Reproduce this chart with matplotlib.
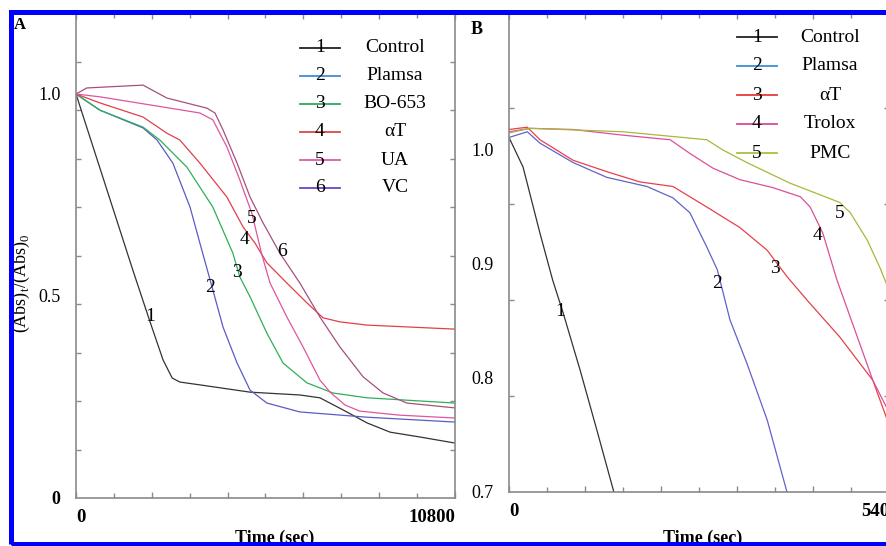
import matplotlib
matplotlib.use("Agg")
import matplotlib.pyplot as plt
from matplotlib.lines import Line2D
from matplotlib.patches import Rectangle
import numpy as np

plt.rcParams['font.family'] = ['Liberation Serif', 'DejaVu Serif']
plt.rcParams['mathtext.fontset'] = 'custom'
plt.rcParams['mathtext.rm'] = 'Liberation Serif'

# %% ----------- data: panel A (time in sec, relative absorbance) -------------
a_names = ['Control', 'Plamsa', 'BO-653', 'αT', 'UA', 'VC']

a_t1 = [0, 1620, 2110, 2480, 2740, 2960, 3530, 4960, 6380, 6950, 7610, 8290, 8950, 9800, 10800]
a_v1 = [1.0, 0.564, 0.436, 0.342, 0.297, 0.287, 0.280, 0.262, 0.255, 0.248, 0.218, 0.186, 0.163, 0.151, 0.136]

a_t2 = [0, 680, 1910, 2310, 2760, 3250, 3530, 3900, 4190, 4590, 4960, 5440, 6380, 8290, 10800]
a_v2 = [1.0, 0.960, 0.916, 0.886, 0.829, 0.720, 0.631, 0.515, 0.423, 0.334, 0.267, 0.235, 0.213, 0.200, 0.188]

a_t3 = [0, 680, 1910, 2390, 3160, 3900, 4470, 4670, 4960, 5440, 5900, 6580, 7320, 8290, 10800]
a_v3 = [1.0, 0.960, 0.918, 0.886, 0.819, 0.720, 0.606, 0.547, 0.498, 0.408, 0.334, 0.285, 0.260, 0.248, 0.235]

a_t4 = [0, 680, 1910, 2590, 2960, 3530, 4300, 4760, 5100, 5440, 6010, 6580, 7040, 7520, 8290, 10800]
a_v4 = [1.0, 0.978, 0.943, 0.903, 0.886, 0.829, 0.745, 0.671, 0.631, 0.582, 0.532, 0.483, 0.446, 0.436, 0.428, 0.418]

a_t5 = [0, 680, 2110, 3530, 3900, 4300, 4670, 5010, 5300, 5530, 6010, 6470, 6950, 7240, 7670, 8090, 9230, 10800]
a_v5 = [1.0, 0.993, 0.973, 0.953, 0.936, 0.869, 0.787, 0.705, 0.601, 0.532, 0.448, 0.374, 0.292, 0.262, 0.230, 0.215, 0.205, 0.198]

a_t6 = [0, 310, 1910, 2590, 3730, 3960, 4190, 4590, 4960, 5330, 5810, 6380, 6950, 7520, 8180, 8750, 9430, 10800]
a_v6 = [1.0, 1.015, 1.022, 0.990, 0.965, 0.953, 0.911, 0.829, 0.745, 0.681, 0.606, 0.532, 0.448, 0.374, 0.300, 0.260, 0.235, 0.223]

# curve number labels (t, v)
a_lab_t = [2110, 3820, 4590, 4790, 5010, 5870]
a_lab_v = [0.450, 0.520, 0.557, 0.639, 0.693, 0.611]

# %% ----------- data: panel B -------------
b_names = ['Control', 'Plamsa', 'αT', 'Trolox', 'PMC']

b_t1 = [0, 20, 44, 62, 77, 101, 125, 149, 158]
b_v1 = [1.011, 0.985, 0.927, 0.886, 0.857, 0.807, 0.754, 0.700, 0.682]

b_t2 = [0, 26, 44, 91, 139, 196, 233, 257, 281, 296, 314, 338, 367, 395, 402]
b_v2 = [1.011, 1.016, 1.006, 0.989, 0.976, 0.968, 0.958, 0.945, 0.915, 0.895, 0.851, 0.813, 0.763, 0.700, 0.684]

b_t3 = [0, 26, 44, 91, 139, 186, 233, 281, 328, 367, 395, 424, 470, 517, 540]
b_v3 = [1.018, 1.020, 1.009, 0.991, 0.981, 0.972, 0.968, 0.950, 0.932, 0.912, 0.889, 0.868, 0.836, 0.798, 0.759]

b_t4 = [0, 30, 91, 162, 229, 257, 290, 328, 375, 414, 428, 446, 466, 495, 517, 540]
b_v4 = [1.016, 1.019, 1.018, 1.013, 1.009, 0.997, 0.984, 0.974, 0.967, 0.959, 0.950, 0.927, 0.886, 0.836, 0.798, 0.770]

b_t5 = [0, 30, 162, 281, 304, 338, 399, 470, 485, 509, 527, 540]
b_v5 = [1.015, 1.019, 1.016, 1.009, 1.000, 0.989, 0.971, 0.954, 0.945, 0.921, 0.897, 0.877]

b_lab_t = [72, 296, 378, 439, 470]
b_lab_v = [0.858, 0.883, 0.896, 0.925, 0.944]

# %% ----------- styles -------------
W, H = 887, 546
a_line_col = ['#333333', '#5b5bc4', '#2fae5a', '#e0404a', '#e0559f', '#a5507e']
a_leg_col = ['#222222', '#3b8fd6', '#2ea860', '#d94a4a', '#e05aa8', '#6a45c8']
b_line_col = ['#333333', '#6262c8', '#e8404a', '#d9509a', '#a8b83a']
b_leg_col = ['#222222', '#3b8fd6', '#e83a3a', '#d94a9a', '#a8c040']
spine_col = '#8a8a8a'


def fx(x):
    return x / W


def fy(y):
    return 1 - y / H


def style_axes(ax):
    for s in ax.spines.values():
        s.set_color(spine_col)
        s.set_linewidth(1.2)
    ax.tick_params(which='both', direction='in', top=True, right=True,
                   color=spine_col, width=1.0)
    ax.tick_params(which='minor', length=3.5)


fig = plt.figure(figsize=(W / 100, H / 100), dpi=100)

# %% ----------- panel A -------------
axA = fig.add_axes([fx(76), fy(498), (455 - 76) / W, (498 - 13) / H])
a_t = [a_t1, a_t2, a_t3, a_t4, a_t5, a_t6]
a_v = [a_v1, a_v2, a_v3, a_v4, a_v5, a_v6]
for t, v, c in zip(a_t, a_v, a_line_col):
    axA.plot(t, v, color=c, lw=0.9)
for i, (t, v) in enumerate(zip(a_lab_t, a_lab_v)):
    axA.text(t, v, str(i + 1), fontsize=14, ha='center', va='center')
axA.set_xlim(0, 10800)
axA.set_ylim(0, (498 - 13) / 404)
style_axes(axA)
axA.set_xticks(np.arange(0, 10801, 2160))
axA.set_xticklabels(['0', '', '', '', '', '10800'], fontweight='bold', fontsize=13.5)
axA.set_xticks(np.arange(0, 10801, 1080), minor=True)
axA.tick_params(axis='x', which='major', length=4, pad=8)
axA.set_yticks([0, 0.5, 1.0])
axA.set_yticklabels(['0', '0.5', '1.0'], fontsize=13)
axA.get_yticklabels()[0].set_fontweight('bold')
axA.set_yticks(np.arange(0, 1.2, 0.12), minor=True)
axA.tick_params(axis='y', which='major', length=0, pad=11)
axA.get_xticklabels()[0].set_ha('left')
axA.get_xticklabels()[-1].set_ha('right')

# %% ----------- panel B -------------
axB = fig.add_axes([fx(509), fy(492), (889 - 509) / W, (492 - 13) / H])
b_t = [b_t1, b_t2, b_t3, b_t4, b_t5]
b_v = [b_v1, b_v2, b_v3, b_v4, b_v5]
for t, v, c in zip(b_t, b_v, b_line_col):
    axB.plot(t, v, color=c, lw=0.9)
for i, (t, v) in enumerate(zip(b_lab_t, b_lab_v)):
    axB.text(t, v, str(i + 1), fontsize=14, ha='center', va='center')
axB.set_xlim(0, 540)
axB.set_ylim(0.7, 0.7 + (492 - 13) / 1140)
style_axes(axB)
axB.set_xticks(np.arange(0, 541, 108))
axB.set_xticklabels(['0', '', '', '', '', '540'], fontweight='bold', fontsize=13.5)
axB.set_xticks(np.arange(0, 541, 54), minor=True)
axB.tick_params(axis='x', which='major', length=4, pad=8)
axB.set_yticks([0.7, 0.8, 0.9, 1.0])
axB.set_yticklabels(['0.7', '0.8', '0.9', '1.0'], fontsize=13)
axB.set_yticks(np.arange(0.7, 1.12, 0.0842), minor=True)
axB.tick_params(axis='y', which='major', length=0, pad=11)
axB.get_xticklabels()[0].set_ha('left')
axB.get_xticklabels()[-1].set_ha('right')

# %% ----------- hand-drawn legends -------------
def legend(x0, x1, xl, y0, dy, names, cols):
    for i, (n, c) in enumerate(zip(names, cols)):
        y = y0 + dy * i
        fig.add_artist(Line2D([fx(x0), fx(x1)], [fy(y), fy(y)], color=c, lw=1.3))
        fig.text(fx((x0 + x1) / 2), fy(y), str(i + 1), fontsize=14,
                 ha='center', va='center')
        fig.text(fx(xl), fy(y), n, fontsize=14, ha='center', va='center')


legend(300, 340, 395, 48, 28, a_names, a_leg_col)
legend(737, 777, 830, 37, 29, b_names, b_leg_col)

# %% ----------- labels -------------
fig.text(fx(20), fy(25), 'A', fontsize=12, fontweight='bold', ha='center', va='center')
fig.text(fx(477), fy(29), 'B', fontsize=13, fontweight='bold', ha='center', va='center')
fig.text(fx(21), fy(283), r'(Abs)$_\mathregular{t}$/(Abs)$_\mathregular{0}$',
         fontsize=13, rotation=90, ha='center', va='center')
fig.text(fx(275), fy(538), 'Time (sec)', fontsize=13, fontweight='bold',
         ha='center', va='center')
fig.text(fx(703), fy(538), 'Time (sec)', fontsize=13, fontweight='bold',
         ha='center', va='center')

# blue frame around the screenshot
fig.add_artist(Rectangle((fx(11), fy(543.5)), (910 - 11) / W, (543.5 - 12) / H,
                         transform=fig.transFigure, fill=False,
                         edgecolor='#0000ff', lw=3.6, zorder=10))

fig.savefig('out.png', dpi=100)
